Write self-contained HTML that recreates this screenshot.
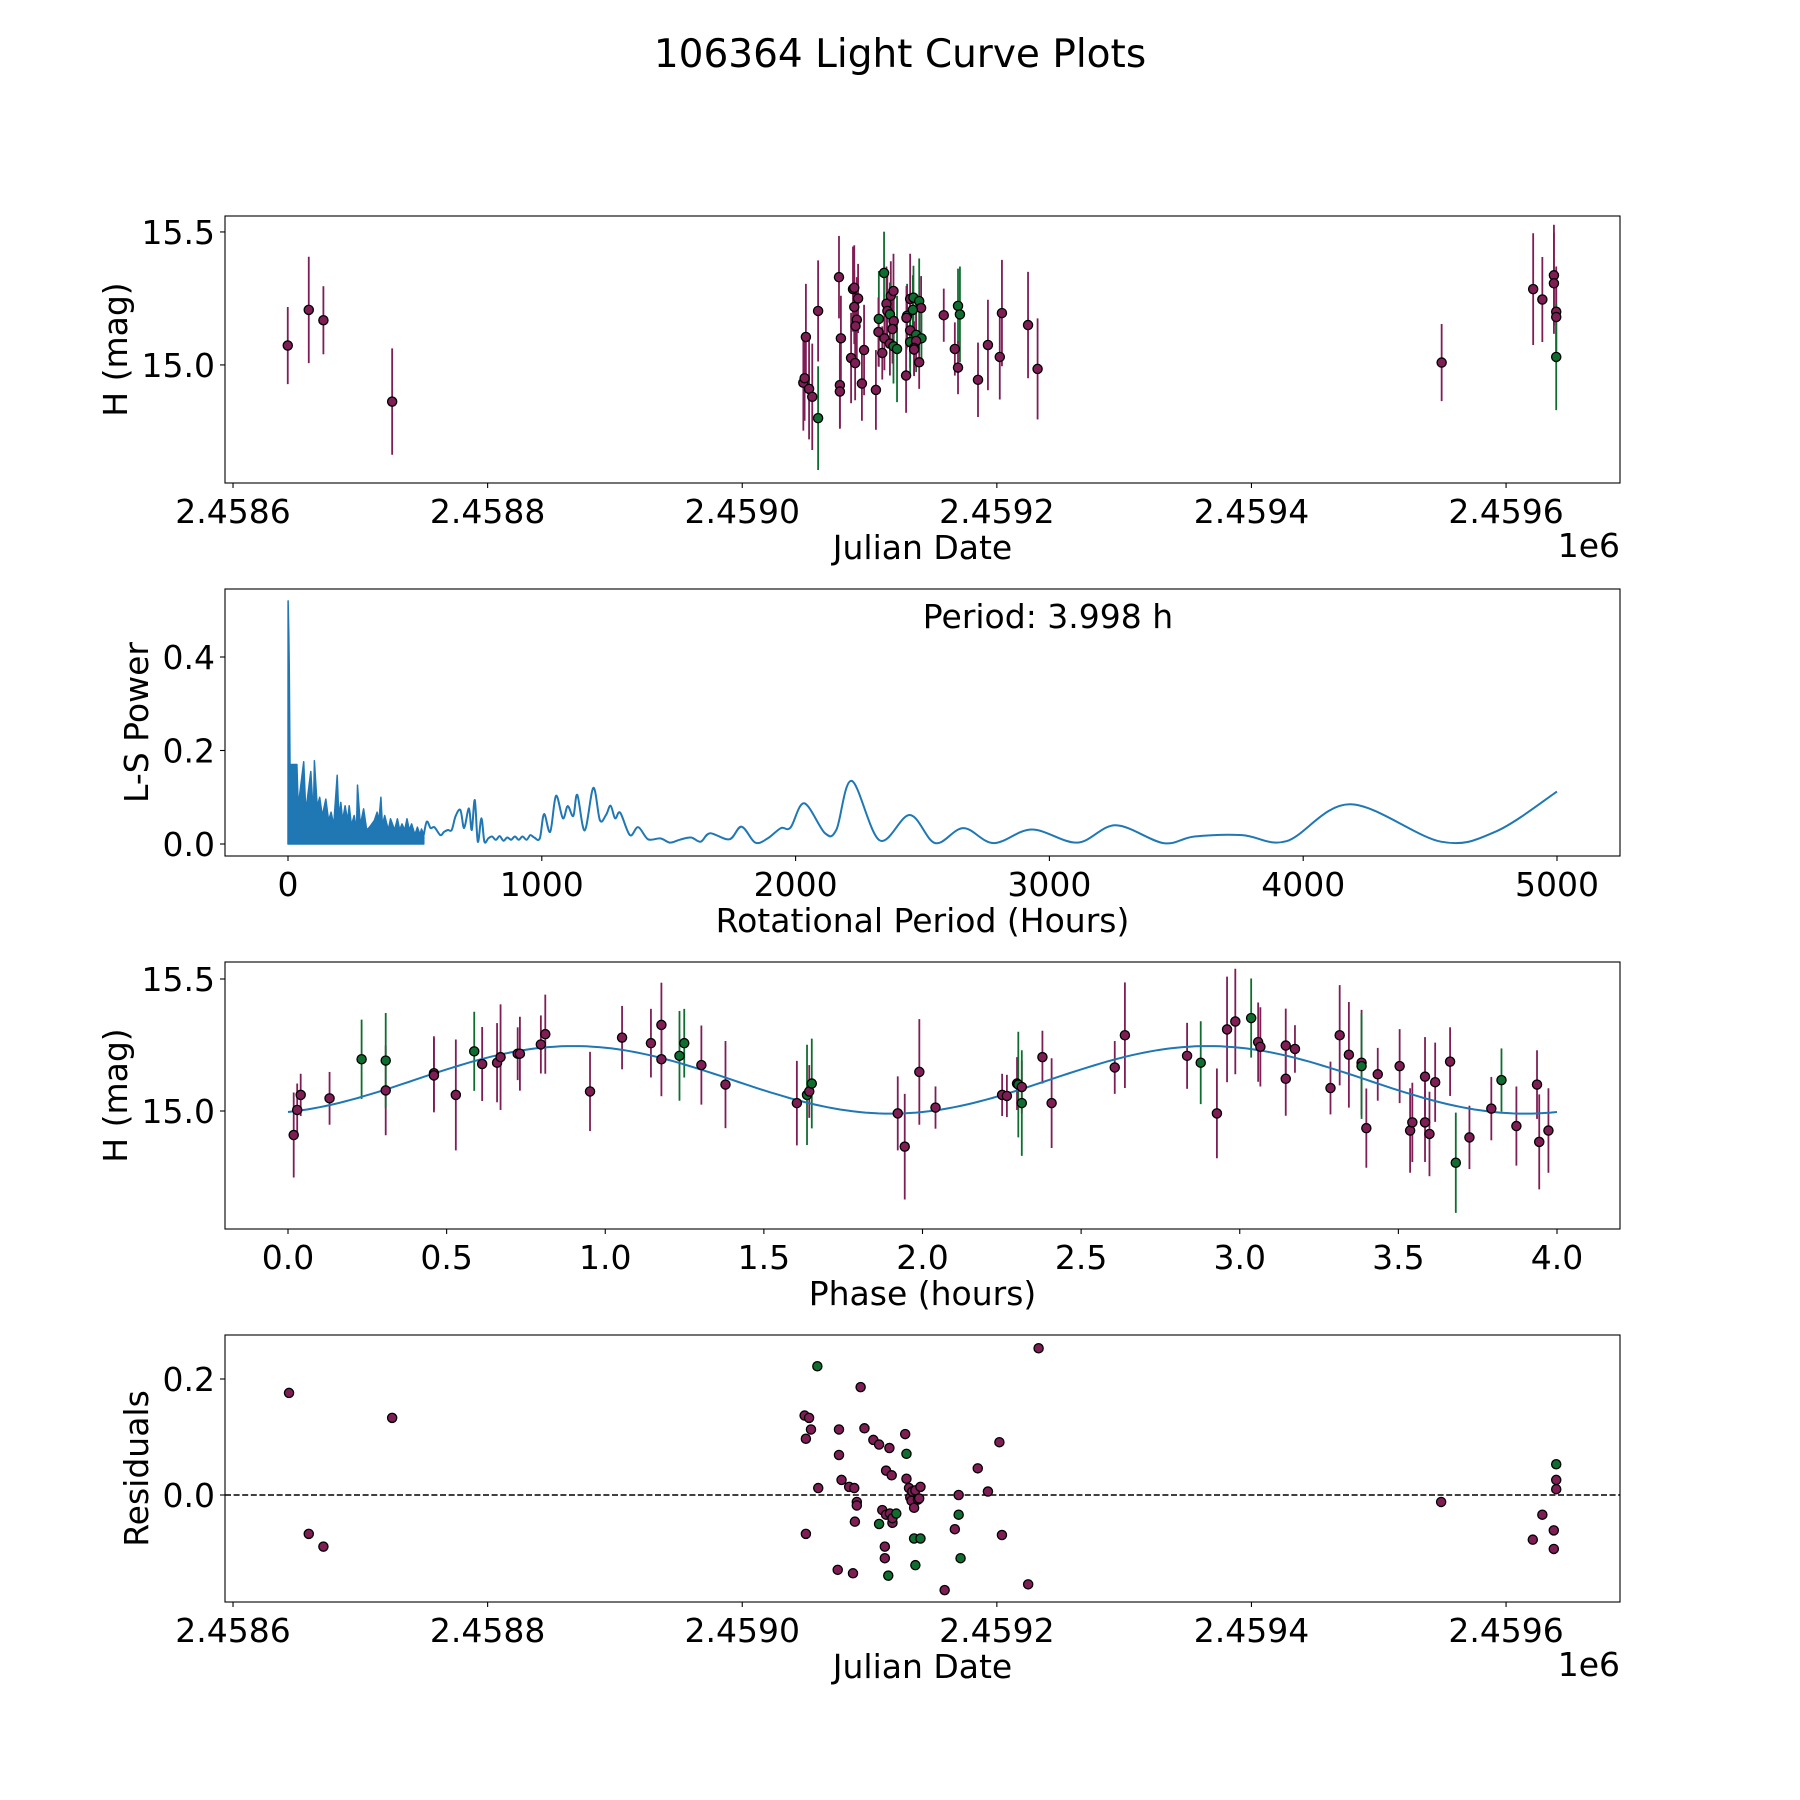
<!DOCTYPE html>
<html><head><meta charset="utf-8"><title>106364 Light Curve Plots</title>
<style>
html,body{margin:0;padding:0;background:#fff;}
svg{display:block;font-family:"DejaVu Sans","Liberation Sans",sans-serif;}
</style></head>
<body>
<svg id="fig" width="1800" height="1800" viewBox="0 0 1800 1800" xmlns="http://www.w3.org/2000/svg">
<rect width="1800" height="1800" fill="#fff"/>
<text x="900" y="67" font-size="39" text-anchor="middle">106364 Light Curve Plots</text>
</svg>
<script>
// ---------- data ----------
const lcJD=[2458643,2458659.5,2458671,2458725,2459048,2459049,2459050,2459052.5,2459055,2459059.6,2459059.6,2459076,2459077.5,2459076.7,2459076.7,2459085.5,2459088.7,2459087,2459088,2459091,2459088,2459090,2459089,2459095.7,2459094,2459105,2459111.4,2459107.3,2459107,2459110,2459113.3,2459114,2459116.7,2459118.8,2459116,2459119,2459118,2459111.7,2459116,2459118.8,2459121.6,2459128.7,2459129.5,2459129,2459131.9,2459134.5,2459139,2459140.5,2459134,2459131.9,2459131.9,2459136.6,2459140.8,2459136.6,2459135,2459135,2459139,2459158.3,2459167,2459169.5,2459171,2459169.5,2459185.2,2459193,2459202.3,2459204,2459224.5,2459232,2459549.4,2459621.3,2459628.5,2459637.6,2459637.6,2459639.4,2459639.4,2459639.4];
const lcMag=[15.073,15.207,15.168,14.862,14.933,14.95,15.105,14.91,14.88,14.80,15.203,15.33,15.10,14.924,14.90,15.026,15.007,15.285,15.29,15.25,15.218,15.17,15.146,15.056,14.93,14.906,15.346,15.173,15.124,15.045,15.23,15.203,15.26,15.278,15.19,15.165,15.135,15.10,15.08,15.07,15.06,14.96,15.185,15.177,15.248,15.253,15.24,15.214,15.207,15.13,15.086,15.113,15.10,15.09,15.064,15.058,15.01,15.187,15.06,15.222,15.19,14.99,14.944,15.075,15.03,15.195,15.15,14.985,15.009,15.285,15.246,15.337,15.307,15.2,15.18,15.03];
const lcErr=[0.145,0.2,0.128,0.2,0.18,0.16,0.2,0.19,0.2,0.195,0.19,0.155,0.16,0.16,0.14,0.17,0.14,0.16,0.16,0.13,0.14,0.16,0.15,0.17,0.14,0.15,0.155,0.18,0.13,0.1,0.14,0.14,0.13,0.14,0.12,0.12,0.13,0.12,0.12,0.14,0.2,0.14,0.12,0.12,0.17,0.12,0.16,0.12,0.13,0.14,0.13,0.14,0.1,0.1,0.1,0.1,0.1,0.1,0.1,0.14,0.18,0.1,0.14,0.17,0.16,0.2,0.2,0.19,0.145,0.21,0.16,0.19,0.19,0.17,0.17,0.2];
const lcGreen=[9,26,27,34,39,40,42,45,46,48,50,51,52,59,60,75];
const lsDensePeriod=[0,0.5,3,5,8,35,40,62,70,90,100,104,115,125,135,149,160,170,180,194,200,208,215,225,235,241,250,261,270,274,285,298,310,321,340,351,358,366,372,381,395,404,420,431,440,449,460,469,478,487,500,510,520,526,535];
const lsDensePower=[0,0.52,0.45,0.37,0.17,0.17,0.08,0.176,0.07,0.155,0.06,0.178,0.08,0.10,0.06,0.096,0.05,0.068,0.04,0.147,0.06,0.089,0.05,0.082,0.05,0.082,0.04,0.061,0.03,0.126,0.04,0.075,0.03,0.036,0.05,0.068,0.05,0.10,0.04,0.061,0.03,0.054,0.03,0.054,0.03,0.043,0.03,0.054,0.03,0.043,0.02,0.036,0.02,0.032,0.02];
const lsPeriod=[535,547,562,577,600,615,630,645,660,679,691,698,713,724,736,748,762,774,789,804,819,834,849,864,879,894,909,924,940,955,970,992,1009,1033,1056,1083,1102,1124,1140,1169,1203,1229,1253,1271,1289,1309,1347,1380,1419,1467,1505,1543,1588,1626,1663,1739,1787,1841,1890,1942,1980,2034,2116,2161,2221,2331,2450,2550,2661,2780,2931,3110,3261,3449,3572,3760,3934,4184,4543,4760,5000];
const lsPower=[0.02,0.048,0.034,0.036,0.019,0.026,0.030,0.030,0.059,0.073,0.037,0.041,0.076,0.030,0.094,0.005,0.055,0.005,0.012,0.016,0.009,0.017,0.007,0.014,0.009,0.016,0.009,0.016,0.009,0.019,0.014,0.012,0.064,0.026,0.103,0.055,0.081,0.060,0.105,0.029,0.120,0.051,0.062,0.082,0.055,0.067,0.019,0.036,0.010,0.012,0.003,0.009,0.014,0.005,0.023,0.010,0.037,0.003,0.012,0.034,0.035,0.087,0.023,0.031,0.135,0.008,0.062,0.002,0.034,0.002,0.031,0.003,0.040,0.002,0.016,0.019,0.006,0.085,0.005,0.027,0.112];
const bestPeriodLabel="Period: 3.998 h";
const phPhase=[0.018,0.029,0.040,0.131,0.232,0.308,0.308,0.460,0.460,0.529,0.587,0.612,0.659,0.670,0.724,0.731,0.797,0.811,0.952,1.053,1.144,1.177,1.177,1.234,1.249,1.303,1.379,1.604,1.636,1.643,1.651,1.922,1.944,1.99,2.041,2.251,2.266,2.298,2.302,2.313,2.313,2.378,2.407,2.606,2.638,2.834,2.877,2.928,2.96,2.986,3.036,3.058,3.065,3.145,3.145,3.174,3.286,3.315,3.344,3.384,3.384,3.399,3.435,3.504,3.537,3.544,3.584,3.584,3.598,3.616,3.663,3.681,3.724,3.793,3.825,3.872,3.937,3.944,3.973];
const phMag=[14.909,15.004,15.061,15.048,15.196,15.078,15.191,15.143,15.135,15.061,15.226,15.178,15.183,15.204,15.217,15.217,15.252,15.291,15.074,15.278,15.257,15.326,15.196,15.209,15.257,15.174,15.1,15.03,15.061,15.074,15.104,14.991,14.865,15.148,15.013,15.061,15.057,15.104,15.1,15.091,15.03,15.204,15.03,15.165,15.287,15.209,15.183,14.991,15.309,15.339,15.352,15.261,15.243,15.122,15.248,15.235,15.087,15.287,15.213,15.183,15.17,14.935,15.139,15.17,14.926,14.957,15.13,14.957,14.913,15.109,15.187,14.804,14.9,15.009,15.117,14.943,15.1,14.883,14.926];
const phErr=[0.161,0.10,0.08,0.10,0.15,0.17,0.18,0.14,0.14,0.21,0.15,0.14,0.15,0.2,0.1,0.14,0.11,0.15,0.15,0.12,0.13,0.16,0.14,0.17,0.13,0.15,0.165,0.16,0.19,0.1,0.17,0.14,0.2,0.2,0.08,0.08,0.08,0.1,0.2,0.1,0.2,0.1,0.17,0.1,0.2,0.125,0.157,0.17,0.2,0.2,0.15,0.15,0.15,0.14,0.14,0.09,0.1,0.19,0.2,0.2,0.2,0.15,0.1,0.14,0.16,0.15,0.15,0.15,0.16,0.15,0.13,0.19,0.12,0.12,0.12,0.15,0.13,0.18,0.16];
const phGreen=[4,6,10,23,24,28,30,38,40,46,50,60,71,74];
const fitMean=15.118, fitAmp=0.128, fitPeriod=2.0, fitPeak=0.9;
const resJD=[2458644,2458659.5,2458671,2458725,2459049,2459052.5,2459050,2459054,2459059,2459059.7,2459050,2459076,2459076,2459078,2459075,2459087,2459084,2459088,2459088.5,2459090,2459090,2459093,2459096,2459103,2459107.5,2459107.5,2459110,2459112,2459112,2459113,2459113,2459114.7,2459115.6,2459116,2459117.4,2459118,2459118,2459121,2459128,2459129,2459129,2459131,2459132,2459133.6,2459133,2459135,2459135,2459136,2459136,2459138,2459139,2459140,2459140,2459159,2459167,2459170,2459170,2459171.5,2459185,2459193,2459202,2459204,2459224.6,2459232.8,2459549,2459621,2459628.5,2459637.5,2459637.5,2459639.4,2459639.4,2459639.4];
const resVal=[0.176,-0.067,-0.089,0.133,0.137,0.133,0.097,0.113,0.222,0.012,-0.067,0.113,0.069,0.026,-0.129,-0.135,0.014,0.012,-0.046,-0.012,-0.018,0.186,0.115,0.095,0.087,-0.05,-0.026,-0.109,-0.089,0.042,-0.034,-0.139,0.081,-0.032,0.034,-0.048,-0.04,-0.032,0.105,0.071,0.028,0.012,-0.004,0.006,-0.01,-0.022,-0.075,0.008,-0.121,-0.008,-0.006,0.014,-0.075,-0.164,-0.059,0,-0.034,-0.109,0.046,0.006,0.091,-0.069,-0.154,0.253,-0.012,-0.077,-0.034,-0.061,-0.093,0.026,0.01,0.053];
const resGreen=[8,25,31,37,39,46,48,52,56,57,71];
const jdTicks=[2458600,2458800,2459000,2459200,2459400,2459600];
const jdTickLabels=["2.4586","2.4588","2.4590","2.4592","2.4594","2.4596"];
const magTicks=[15.0,15.5], magTickLabels=["15.0","15.5"];
const lsXTicks=[0,1000,2000,3000,4000,5000], lsYTicks=[0,0.2,0.4], lsYTickLabels=["0.0","0.2","0.4"];
const phTicks=[0,0.5,1,1.5,2,2.5,3,3.5,4], phTickLabels=["0.0","0.5","1.0","1.5","2.0","2.5","3.0","3.5","4.0"];
const resTicks=[0,0.2], resTickLabels=["0.0","0.2"];

// ---------- drawing ----------
const NS="http://www.w3.org/2000/svg";
const svg=document.getElementById('fig');
const PUR='#7e1e55', GRN='#0f6e2f';
function colOf(list,i){return list.indexOf(i)>=0?GRN:PUR;}
function mk(tag,attrs,parent){const e=document.createElementNS(NS,tag);for(const k in attrs)e.setAttribute(k,attrs[k]);(parent||svg).appendChild(e);return e;}
function lin(d0,d1,p0,p1){return v=>p0+(v-d0)*(p1-p0)/(d1-d0);}
const L=225,R=1620,FS=33;
function axes(name,top,bot,xs,ys,xt,xtl,yt,ytl,xlabel,ylabel,offset){
  const g=mk('g',{});
  
  
  xt.forEach((t,i)=>{const x=xs(t);
    const tk=mk('line',{x1:x,x2:x,y1:bot,y2:bot+5,stroke:'#000','stroke-width':1.1},g);
    
    const tx=mk('text',{x:x,y:bot+40,'font-size':FS,'text-anchor':'middle'},g);tx.textContent=xtl[i];
    });
  yt.forEach((t,i)=>{const y=ys(t);
    const tk=mk('line',{x1:L-5,x2:L,y1:y,y2:y,stroke:'#000','stroke-width':1.1},g);
    
    const tx=mk('text',{x:L-10,y:y+12,'font-size':FS,'text-anchor':'end'},g);tx.textContent=ytl[i];
    });
  const xl=mk('text',{x:(L+R)/2,y:bot+76,'font-size':FS,'text-anchor':'middle'},g);xl.textContent=xlabel;
  
  const yc=(top+bot)/2;
  const yl=mk('text',{x:0,y:0,'font-size':FS,'text-anchor':'middle',transform:`translate(${offset},${yc}) rotate(-90)`},g);yl.textContent=ylabel;
  
  return g;
}
function frame(top,bot){const r=mk('rect',{x:L,y:top,width:R-L,height:bot-top,fill:'none',stroke:'#000','stroke-width':1.1});
  }
function offsetLabel(bot){const t=mk('text',{x:R,y:bot+74,'font-size':FS,'text-anchor':'end'});t.textContent='1e6';
  }
function clip(id,top,bot){const c=mk('clipPath',{id:id});mk('rect',{x:L,y:top,width:R-L,height:bot-top},c);}

// Panel 1
{const top=216,bot=483;
 const xs=lin(2458593.7,2459689.5,L,R), ys=lin(14.556,15.56,bot,top);
 axes('light-curve-panel',top,bot,xs,ys,jdTicks,jdTickLabels,magTicks,magTickLabels,'Julian Date','H (mag)',127);
 clip('c1',top,bot);
 const g=mk('g',{'clip-path':'url(#c1)'});
 lcJD.forEach((t,i)=>{const x=xs(t),c=colOf(lcGreen,i);
   const e=mk('line',{x1:x,x2:x,y1:ys(lcMag[i]-lcErr[i]),y2:ys(lcMag[i]+lcErr[i]),stroke:c,'stroke-width':1.8},g);
   });
 lcJD.forEach((t,i)=>{const m=mk('circle',{cx:xs(t),cy:ys(lcMag[i]),r:4.6,fill:colOf(lcGreen,i),stroke:'#000','stroke-width':1.3},g);
   });
 frame(top,bot); offsetLabel(bot);}

// Panel 2
{const top=589,bot=856;
 const xs=lin(0,5000,288,1557), ys=lin(0,0.4,844,657);
 axes('periodogram-panel',top,bot,xs,ys,lsXTicks,lsXTicks.map(String),lsYTicks,lsYTickLabels,'Rotational Period (Hours)','L-S Power',148);
 clip('c2',top,bot);
 const g=mk('g',{'clip-path':'url(#c2)'});
 let d='M'+xs(lsDensePeriod[0])+','+ys(0);
 lsDensePeriod.forEach((p,i)=>{d+=' L'+xs(p).toFixed(1)+','+ys(lsDensePower[i]).toFixed(1);});
 d+=' L'+xs(lsDensePeriod[lsDensePeriod.length-1])+','+ys(0)+' Z';
 const f=mk('path',{d:d,fill:'#1f77b4',stroke:'#1f77b4','stroke-width':1.5,'stroke-linejoin':'round'},g);
 
 const P=lsPeriod.map((p,i)=>[xs(p),ys(lsPower[i])]);
 let s='M'+P[0][0].toFixed(1)+','+P[0][1].toFixed(1);
 for(let i=0;i<P.length-1;i++){const p0=P[Math.max(0,i-1)],p1=P[i],p2=P[i+1],p3=P[Math.min(P.length-1,i+2)];
   const c1x=p1[0]+(p2[0]-p0[0])/6,c1y=p1[1]+(p2[1]-p0[1])/6,c2x=p2[0]-(p3[0]-p1[0])/6,c2y=p2[1]-(p3[1]-p1[1])/6;
   s+=` C${c1x.toFixed(1)},${c1y.toFixed(1)} ${c2x.toFixed(1)},${c2y.toFixed(1)} ${p2[0].toFixed(1)},${p2[1].toFixed(1)}`;}
 const ln=mk('path',{d:s,fill:'none',stroke:'#1f77b4','stroke-width':2},g);
 
 const a=mk('text',{x:1048,y:628,'font-size':FS,'text-anchor':'middle'});a.textContent=bestPeriodLabel;
 
 frame(top,bot);}

// Panel 3
{const top=962,bot=1229;
 const xs=lin(0,4,288,1557), ys=lin(15.0,15.5,1111,979);
 axes('phased-curve-panel',top,bot,xs,ys,phTicks,phTickLabels,magTicks,magTickLabels,'Phase (hours)','H (mag)',127);
 clip('c3',top,bot);
 const g=mk('g',{'clip-path':'url(#c3)'});
 phPhase.forEach((t,i)=>{const x=xs(t),c=colOf(phGreen,i);
   const e=mk('line',{x1:x,x2:x,y1:ys(phMag[i]-phErr[i]),y2:ys(phMag[i]+phErr[i]),stroke:c,'stroke-width':1.8},g);
   });
 let d='';for(let k=0;k<=200;k++){const ph=4*k/200;const m=fitMean+fitAmp*Math.cos(2*Math.PI*(ph-fitPeak)/fitPeriod);
   d+=(k?' L':'M')+xs(ph).toFixed(1)+','+ys(m).toFixed(1);}
 const fl=mk('path',{d:d,fill:'none',stroke:'#1f77b4','stroke-width':2},g);
 
 phPhase.forEach((t,i)=>{const m=mk('circle',{cx:xs(t),cy:ys(phMag[i]),r:4.6,fill:colOf(phGreen,i),stroke:'#000','stroke-width':1.3},g);
   });
 frame(top,bot);}

// Panel 4
{const top=1335,bot=1602;
 const xs=lin(2458593.7,2459689.5,L,R), ys=lin(0,0.2,1495,1379);
 axes('residuals-panel',top,bot,xs,ys,jdTicks,jdTickLabels,resTicks,resTickLabels,'Julian Date','Residuals',148);
 clip('c4',top,bot);
 const g=mk('g',{'clip-path':'url(#c4)'});
 const z=mk('line',{x1:L,x2:R,y1:ys(0),y2:ys(0),stroke:'#000','stroke-width':1.6,'stroke-dasharray':'6,2.6'},g);
 
 resJD.forEach((t,i)=>{const m=mk('circle',{cx:xs(t),cy:ys(resVal[i]),r:4.6,fill:colOf(resGreen,i),stroke:'#000','stroke-width':1.3},g);
   });
 frame(top,bot); offsetLabel(bot);}
</script>
</body></html>
